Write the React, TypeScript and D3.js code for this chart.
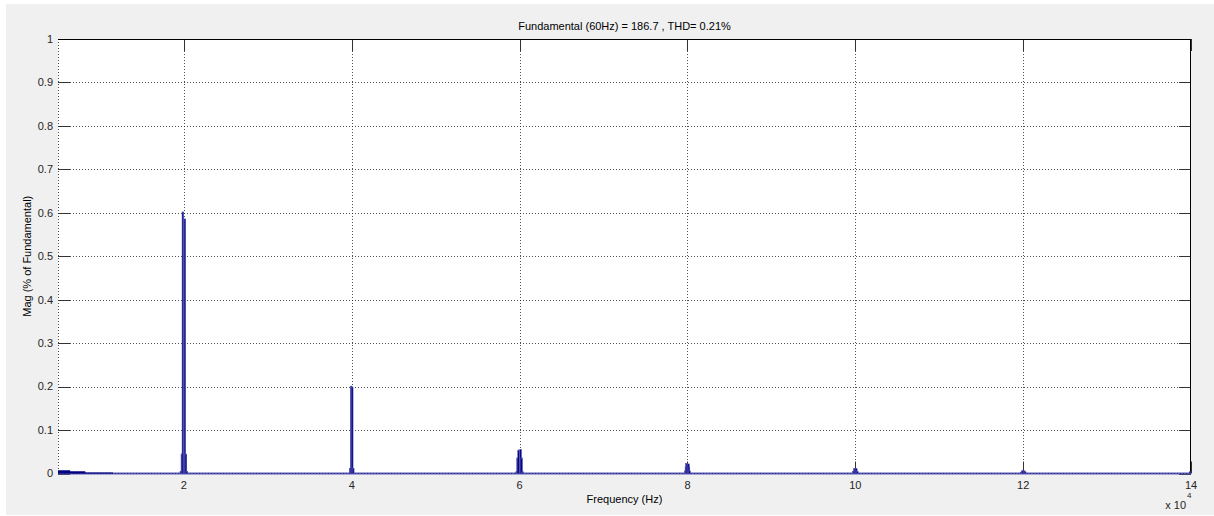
import React from "react";
import * as d3 from "d3";

const titleText = "Fundamental (60Hz) = 186.7 , THD= 0.21%";
const xLabel = "Frequency (Hz)";
const yLabel = "Mag (% of Fundamental)";

const xTicks = [20000, 40000, 60000, 80000, 100000, 120000, 140000];
const xTickLabels = ["2", "4", "6", "8", "10", "12", "14"];
const yTicks = [0, 0.1, 0.2, 0.3, 0.4, 0.5, 0.6, 0.7, 0.8, 0.9, 1];
const yTickLabels = ["0", "0.1", "0.2", "0.3", "0.4", "0.5", "0.6", "0.7", "0.8", "0.9", "1"];

// low-frequency band (step edges in Hz and level of each step)
const lowBandEdges = [5000, 6450, 8250, 11550];
const lowBandMags = [0.0075, 0.005, 0.0025];

// harmonic bars around multiples of the 20 kHz carrier
const barFreqs = [
  19640, 19760, 19820, 19880, 20120, 20180, 20240, 20360,
  39820, 39940, 40060, 40180,
  59640, 59760, 59880, 60120, 60240, 60360,
  79760, 79820, 79880, 80000, 80120, 80180, 80240,
  99760, 99880, 100000, 100120, 100240,
  119760, 119880, 120000, 120120, 120240,
  139880,
];
const barMags = [
  0.005, 0.045, 0.044, 0.602, 0.586, 0.045, 0.044, 0.005,
  0.012, 0.201, 0.199, 0.012,
  0.004, 0.036, 0.054, 0.055, 0.036, 0.004,
  0.006, 0.015, 0.023, 0.02, 0.022, 0.015, 0.006,
  0.005, 0.011, 0.012, 0.011, 0.005,
  0.003, 0.006, 0.007, 0.006, 0.004,
  0.004,
];

const W = 1214;
const H = 516;
const L = 58;
const R = 1191;
const T = 39;
const B = 473.5;
const FONT = "'Liberation Sans', Arial, Helvetica, sans-serif";
const BAR = "#00007f";

export default function App() {
  const x = d3.scaleLinear().domain([5000, 140000]).range([L, R]);
  const y = d3.scaleLinear().domain([0, 1]).range([B, T]);

  const lowPts: [number, number][] = [];
  lowBandMags.forEach((m, i) => {
    lowPts.push([lowBandEdges[i], m]);
    lowPts.push([lowBandEdges[i + 1], m]);
  });
  const lowArea = d3
    .area<[number, number]>()
    .x((d) => x(d[0]))
    .y0(y(0))
    .y1((d) => y(d[1]))
    .curve(d3.curveLinear)(lowPts);

  const tickLen = 12;

  return (
    <svg
      width={W}
      height={H}
      style={{ position: "absolute", left: 0, top: 0, background: "#fff" }}
      fontFamily={FONT}
    >
      <rect x={6} y={4} width={W - 6} height={H - 5} fill="#f0f0f0" />
      <rect x={L} y={T} width={R - L} height={B - T} fill="#fff" />

      {/* grid */}
      {yTicks.slice(1, -1).map((t) => (
        <line key={"gy" + t} x1={L} x2={R} y1={Math.round(y(t)) + 0.5} y2={Math.round(y(t)) + 0.5}
          stroke="#222" strokeDasharray="1 2" strokeWidth={1} opacity={0.8} />
      ))}
      {xTicks.slice(0, -1).map((t) => (
        <line key={"gx" + t} x1={Math.round(x(t)) + 0.5} x2={Math.round(x(t)) + 0.5} y1={T} y2={B}
          stroke="#222" strokeDasharray="1 2" strokeWidth={1} opacity={0.8} />
      ))}
      {/* left edge dotted */}
      <line x1={L + 0.5} x2={L + 0.5} y1={T} y2={B} stroke="#222" strokeDasharray="1 2" opacity={0.8} />

      {/* ticks */}
      {yTicks.map((t) => (
        <g key={"ty" + t}>
          <line x1={L} x2={L + tickLen} y1={Math.round(y(t)) + 0.5} y2={Math.round(y(t)) + 0.5} stroke="#333" />
          <line x1={R - tickLen} x2={R} y1={Math.round(y(t)) + 0.5} y2={Math.round(y(t)) + 0.5} stroke="#333" />
        </g>
      ))}
      {xTicks.map((t) => (
        <g key={"tx" + t}>
          <line x1={Math.round(x(t)) + 0.5} x2={Math.round(x(t)) + 0.5} y1={T} y2={T + tickLen} stroke="#333" />
          <line x1={Math.round(x(t)) + 0.5} x2={Math.round(x(t)) + 0.5} y1={B - tickLen} y2={B} stroke="#333" />
        </g>
      ))}

      {/* box top/right */}
      <line x1={L} x2={R} y1={T + 0.5} y2={T + 0.5} stroke="#000" />
      <line x1={R - 0.5} x2={R - 0.5} y1={T} y2={B} stroke="#000" />

      {/* baseline */}
      <line x1={L} x2={R} y1={y(0)} y2={y(0)} stroke="#5a5ab4" strokeWidth={2} />
      <line x1={L} x2={R} y1={y(0)} y2={y(0)} stroke="#20207a" strokeWidth={1} strokeDasharray="1 2" opacity={0.8} />

      {/* low band */}
      {lowArea && <path d={lowArea} fill={BAR} />}

      {/* bars */}
      {barFreqs.map((f, i) => {
        const cx = x(f);
        const w = Math.max(1.6, x(f + 24) - x(f - 24));
        const top = y(barMags[i]);
        return (
          <rect key={"b" + i} x={cx - w / 2} y={top} width={w} height={y(0) - top}
            fill={BAR} stroke="#5050b0" strokeWidth={0.6} />
        );
      })}

      {/* tick labels */}
      {yTicks.map((t, i) => (
        <text key={"ly" + t} x={L - 5} y={y(t)} dy="0.35em" textAnchor="end" fontSize={11} fill="#262626">
          {yTickLabels[i]}
        </text>
      ))}
      {xTicks.map((t, i) => (
        <text key={"lx" + t} x={x(t)} y={489} textAnchor="middle" fontSize={11} fill="#262626">
          {xTickLabels[i]}
        </text>
      ))}
      <text x={1186} y={509} textAnchor="end" fontSize={11} fill="#262626">x 10</text>
      <text x={1187} y={498} fontSize={8} fill="#262626">4</text>

      {/* labels */}
      <text x={(L + R) / 2} y={30} textAnchor="middle" fontSize={11} fill="#000">{titleText}</text>
      <text x={(L + R) / 2} y={503} textAnchor="middle" fontSize={11} fill="#000">{xLabel}</text>
      <text transform={`translate(31, ${(T + B) / 2}) rotate(-90)`} textAnchor="middle" fontSize={11} fill="#000">
        {yLabel}
      </text>
    </svg>
  );
}
